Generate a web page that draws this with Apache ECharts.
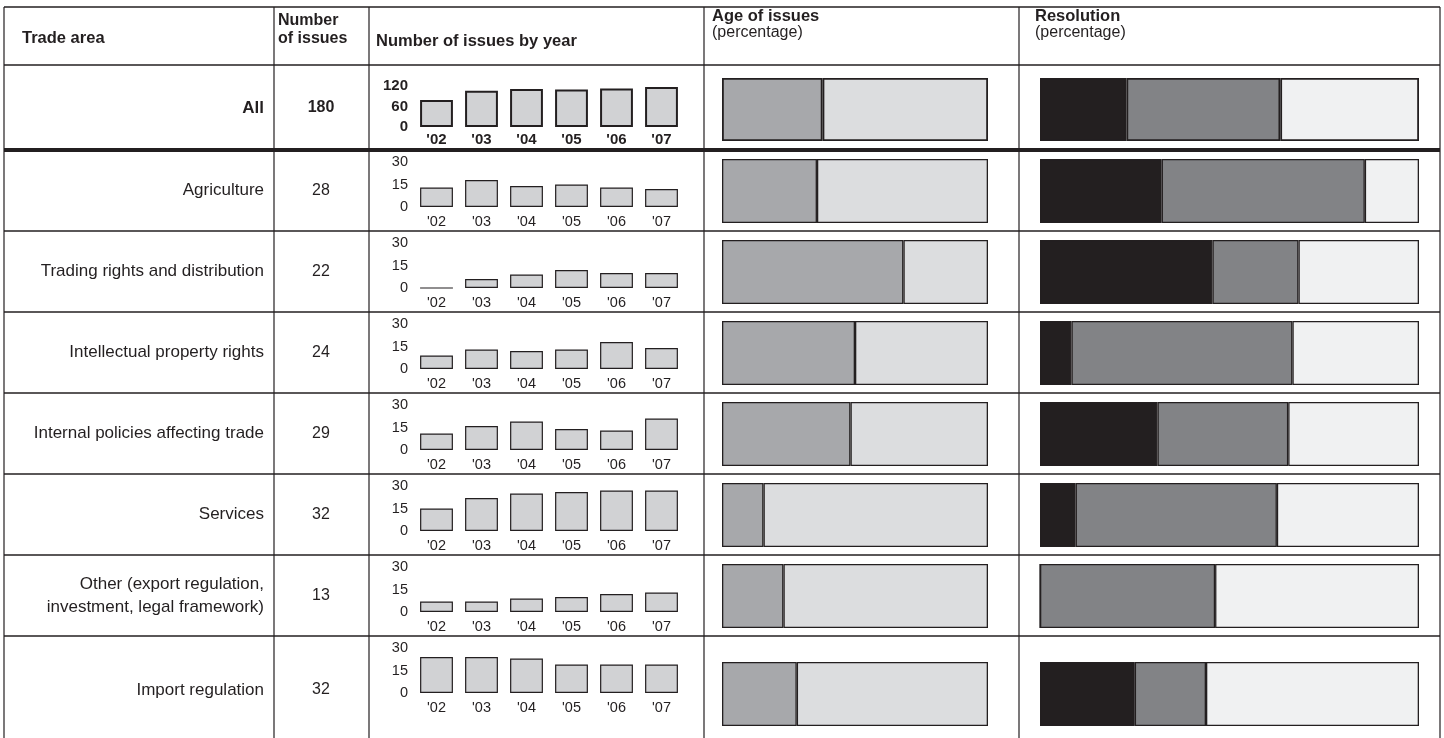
<!DOCTYPE html>
<html>
<head>
<meta charset="utf-8">
<script src="https://cdn.jsdelivr.net/npm/echarts@6/dist/echarts.min.js"></script>
<style>
html,body{margin:0;padding:0;background:#ffffff;}
#chart{width:1444px;height:738px;}
</style>
</head>
<body>
<div id="chart"></div>
<script>
// ---------- DATA ----------
const tradeAreas = ['All', 'Agriculture', 'Trading rights and distribution', 'Intellectual property rights',
  'Internal policies affecting trade', 'Services', 'Other (export regulation,\ninvestment, legal framework)', 'Import regulation'];
const numberOfIssues = [180, 28, 22, 24, 29, 32, 13, 32];
const years = ["'02", "'03", "'04", "'05", "'06", "'07"];

const byYearAll = [79, 106, 111, 110, 113, 117];
const byYearAgriculture = [13, 18, 14, 15, 13, 12];
const byYearTrading = [0, 6, 9, 12, 10, 10];
const byYearIPR = [9, 13, 12, 13, 18, 14];
const byYearInternal = [11, 16, 19, 14, 13, 21];
const byYearServices = [15, 22, 25, 26, 27, 27];
const byYearOther = [7, 7, 9, 10, 12, 13];
const byYearImport = [24, 24, 23, 19, 19, 19];
const byYear = [byYearAll, byYearAgriculture, byYearTrading, byYearIPR, byYearInternal, byYearServices, byYearOther, byYearImport];

const yTicksAll = [0, 60, 120];
const yTicksArea = [0, 15, 30];

// Age of issues (percentage): first (darker) and second (lighter) segment
const ageDark = [37.8, 35.7, 68.2, 50.0, 48.3, 15.6, 23.1, 28.1];
const ageLight = [62.2, 64.3, 31.8, 50.0, 51.7, 84.4, 76.9, 71.9];

// Resolution (percentage): black, grey, light segments
const resBlack = [22.8, 32.1, 45.5, 8.3, 31.0, 9.4, 0, 25.0];
const resGrey = [40.6, 53.6, 22.7, 58.3, 34.5, 53.1, 46.2, 18.8];
const resLight = [36.6, 14.3, 31.8, 33.4, 34.5, 37.5, 53.8, 56.2];

// ---------- LAYOUT ----------
const FONT = "'Liberation Sans', Arial, Helvetica, sans-serif";
const INK = '#231f20';
const colX = [4, 274, 369, 704, 1019, 1440];
const rowTop = [65, 150, 231, 312, 393, 474, 555, 636];
const rowLabelY = [108, 190.5, 271.5, 352.5, 433.5, 514.5, 595.5, 690];

const grids = [], xAxes = [], yAxes = [], series = [], graphics = [];

for (let r = 0; r < 8; r++) {
  const T = rowTop[r];
  const isAll = r === 0;
  const ticks = isAll ? yTicksAll : yTicksArea;
  // year chart
  const gTop = isAll ? 86 : T + 12;
  const gH = isAll ? 41 : 45;
  grids.push({left: 414, width: 270, top: gTop, height: gH});
  const lblStyle = {fontFamily: FONT, fontSize: isAll ? 15 : 14.5, color: INK, fontWeight: isAll ? 'bold' : 'normal'};
  xAxes.push({type: 'category', gridIndex: 3*r, data: years,
    axisLine: {show: false}, axisTick: {show: false},
    axisLabel: Object.assign({margin: isAll ? 5 : 7, interval: 0}, lblStyle)});
  yAxes.push({type: 'value', gridIndex: 3*r, min: ticks[0], max: ticks[2], interval: ticks[1] - ticks[0],
    axisLine: {show: false}, axisTick: {show: false}, splitLine: {show: false},
    axisLabel: Object.assign({margin: 6}, lblStyle)});
  series.push({type: 'bar', xAxisIndex: 3*r, yAxisIndex: 3*r, data: byYear[r], barCategoryGap: '27%',
    silent: true, animation: false,
    itemStyle: {color: '#d1d2d4', borderColor: INK, borderWidth: isAll ? 2 : 1.2}});

  // age & resolution bars
  const bTop = isAll ? 78 : (r === 7 ? T + 26 : T + 9);
  const bH = isAll ? 63 : 64;
  grids.push({left: 722, width: 266, top: bTop, height: bH});
  grids.push({left: 1040, width: 379, top: bTop, height: bH});
  for (const gi of [3*r+1, 3*r+2]) {
    xAxes.push({type: 'value', gridIndex: gi, min: 0, max: 100, show: false});
    yAxes.push({type: 'category', gridIndex: gi, data: [tradeAreas[r]], show: false});
  }
  const segStyle = (c) => ({color: c, borderColor: INK, borderWidth: isAll ? 1.8 : 1.3});
  series.push({type: 'bar', xAxisIndex: 3*r+1, yAxisIndex: 3*r+1, stack: 'age' + r, barWidth: '100%',
    data: [ageDark[r]], itemStyle: segStyle('#a7a8ab'), silent: true, animation: false});
  series.push({type: 'bar', xAxisIndex: 3*r+1, yAxisIndex: 3*r+1, stack: 'age' + r, barWidth: '100%',
    data: [ageLight[r]], itemStyle: segStyle('#dcdddf'), silent: true, animation: false});
  series.push({type: 'bar', xAxisIndex: 3*r+2, yAxisIndex: 3*r+2, stack: 'res' + r, barWidth: '100%',
    data: [resBlack[r]], itemStyle: segStyle('#231f20'), silent: true, animation: false});
  series.push({type: 'bar', xAxisIndex: 3*r+2, yAxisIndex: 3*r+2, stack: 'res' + r, barWidth: '100%',
    data: [resGrey[r]], itemStyle: segStyle('#828386'), silent: true, animation: false});
  series.push({type: 'bar', xAxisIndex: 3*r+2, yAxisIndex: 3*r+2, stack: 'res' + r, barWidth: '100%',
    data: [resLight[r]], itemStyle: segStyle('#f0f1f2'), silent: true, animation: false});

  // row texts
  graphics.push({type: 'text', x: 264, y: rowLabelY[r], silent: true,
    style: {text: tradeAreas[r], fill: INK, font: (isAll ? 'bold ' : '') + '17px ' + FONT,
      align: 'right', verticalAlign: 'middle', textAlign: 'right', textVerticalAlign: 'middle', lineHeight: 23}});
  graphics.push({type: 'text', x: 321, y: rowLabelY[r], silent: true,
    style: {text: String(numberOfIssues[r]), fill: INK, font: (isAll ? 'bold ' : '') + '16px ' + FONT,
      align: 'center', verticalAlign: 'middle', textAlign: 'center', textVerticalAlign: 'middle'}});
}

// table lines
const line = (x1, y1, x2, y2, w) => ({type: 'line', silent: true, z: 10,
  shape: {x1, y1, x2, y2}, style: {stroke: INK, lineWidth: w}});
graphics.push(line(colX[0], 7, colX[5], 7, 1.3));
graphics.push(line(colX[0], 65, colX[5], 65, 1.3));
graphics.push(line(colX[0], 150, colX[5], 150, 4));
for (let r = 2; r < 8; r++) graphics.push(line(colX[0], rowTop[r], colX[5], rowTop[r], 1.3));
for (const x of colX) graphics.push(line(x, 7, x, 738, 1.2));

// header texts
const hdr = (text, x, y, bold, lh, size) => ({type: 'text', x, y, silent: true,
  style: {text, fill: INK, font: (bold ? 'bold ' : '') + (size || 16.5) + 'px ' + FONT, align: 'left', verticalAlign: 'middle',
    textAlign: 'left', textVerticalAlign: 'middle', lineHeight: lh || 18}});
graphics.push(hdr('Trade area', 22, 38, true));
graphics.push(hdr('Number\nof issues', 278, 30, true, 18, 16));
graphics.push(hdr('Number of issues by year', 376, 41, true));
graphics.push(hdr('Age of issues', 712, 16, true));
graphics.push(hdr('(percentage)', 712, 33, false, 18, 16));
graphics.push(hdr('Resolution', 1035, 16, true));
graphics.push(hdr('(percentage)', 1035, 33, false, 18, 16));

const chart = echarts.init(document.getElementById('chart'), null, {renderer: 'canvas'});
chart.setOption({
  animation: false,
  backgroundColor: '#ffffff',
  textStyle: {fontFamily: FONT},
  grid: grids,
  xAxis: xAxes,
  yAxis: yAxes,
  series: series,
  graphic: graphics
});
</script>
</body>
</html>
